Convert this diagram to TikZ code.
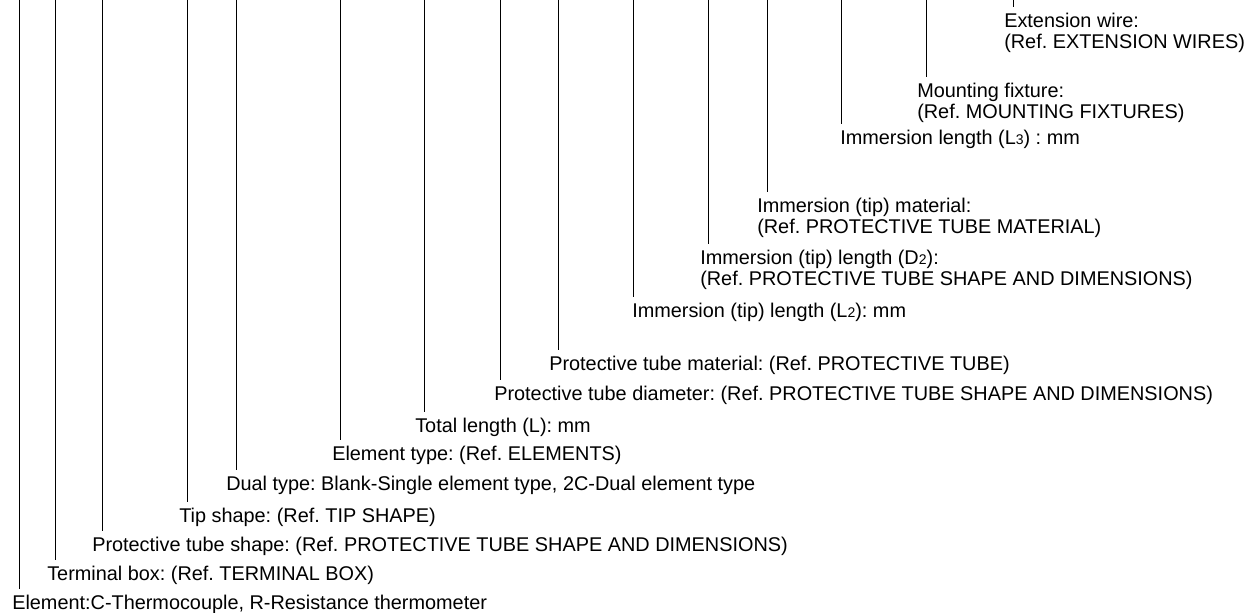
\documentclass[tikz,border=0pt]{standalone}
\usepackage{fontspec}
\setmainfont{Liberation Sans}
\usepackage{tikz}
\frenchspacing
\newcommand{\smalldigit}[1]{{\fontsize{10.5}{10.5}\selectfont #1}}

\begin{document}
\begin{tikzpicture}[
    x=0.75pt, y=-0.75pt,
    callout/.style={
        anchor=north west, align=left,
        inner xsep=0pt, inner ysep=4.5pt,
        font=\fontsize{14.9}{16.1}\selectfont
    },
    leader/.style={line width=0.75pt, color=black}
]
    \useasboundingbox (0,0) rectangle (1255,612);

    % tops of the leader lines
    \coordinate (t1) at (19,0);
    \coordinate (t2) at (55,0);
    \coordinate (t3) at (102,0);
    \coordinate (t4) at (187,0);
    \coordinate (t5) at (236,0);
    \coordinate (t6) at (340,0);
    \coordinate (t7) at (424,0);
    \coordinate (t8) at (500,0);
    \coordinate (t9) at (558,0);
    \coordinate (t10) at (633,0);
    \coordinate (t11) at (708,0);
    \coordinate (t12) at (767,0);
    \coordinate (t13) at (841,0);
    \coordinate (t14) at (926,0);
    \coordinate (t15) at (1013,0);

    \node[callout] (element) at (12,588.7) {Element:C-Thermocouple, R-Resistance thermometer};
    \node[callout] (termbox) at (47,559.7) {Terminal box: (Ref. TERMINAL BOX)};
    \node[callout] (tubeshape) at (92,530.7) {Protective tube shape: (Ref. PROTECTIVE TUBE SHAPE AND DIMENSIONS)};
    \node[callout] (tipshape) at (179,501.7) {Tip shape: (Ref. TIP SHAPE)};
    \node[callout] (dualtype) at (226,469.7) {Dual type: Blank-Single element type, 2C-Dual element type};
    \node[callout] (elemtype) at (332,439.7) {Element type: (Ref. ELEMENTS)};
    \node[callout] (totallen) at (415,411.7) {Total length (L): mm};
    \node[callout] (tubediam) at (494,379.7) {Protective tube diameter: (Ref. PROTECTIVE TUBE SHAPE AND DIMENSIONS)};
    \node[callout] (tubemat) at (549,349.7) {Protective tube material: (Ref. PROTECTIVE TUBE)};
    \node[callout] (tiplen) at (632,296.7) {Immersion (tip) length (L\smalldigit{2}): mm};
    \node[callout] (tipdiam) at (700,243.7) {Immersion (tip) length (D\smalldigit{2}):\\(Ref. PROTECTIVE TUBE SHAPE AND DIMENSIONS)};
    \node[callout] (tipmat) at (757,191.7) {Immersion (tip) material:\\(Ref. PROTECTIVE TUBE MATERIAL)};
    \node[callout] (immlen) at (840,123.7) {Immersion length (L\smalldigit{3}) : mm};
    \node[callout] (mounting) at (917,76.7) {Mounting fixture:\\(Ref. MOUNTING FIXTURES)};
    \node[callout] (extwire) at (1004,6.7) {Extension wire:\\(Ref. EXTENSION WIRES)};

    \draw[leader] (t1) -- (t1 |- element.north);
    \draw[leader] (t2) -- (t2 |- termbox.north);
    \draw[leader] (t3) -- (t3 |- tubeshape.north);
    \draw[leader] (t4) -- (t4 |- tipshape.north);
    \draw[leader] (t5) -- (t5 |- dualtype.north);
    \draw[leader] (t6) -- (t6 |- elemtype.north);
    \draw[leader] (t7) -- (t7 |- totallen.north);
    \draw[leader] (t8) -- (t8 |- tubediam.north);
    \draw[leader] (t9) -- (t9 |- tubemat.north);
    \draw[leader] (t10) -- (t10 |- tiplen.north);
    \draw[leader] (t11) -- (t11 |- tipdiam.north);
    \draw[leader] (t12) -- (t12 |- tipmat.north);
    \draw[leader] (t13) -- (t13 |- immlen.north);
    \draw[leader] (t14) -- (t14 |- mounting.north);
    \draw[leader] (t15) -- (t15 |- extwire.north);
\end{tikzpicture}
\end{document}
